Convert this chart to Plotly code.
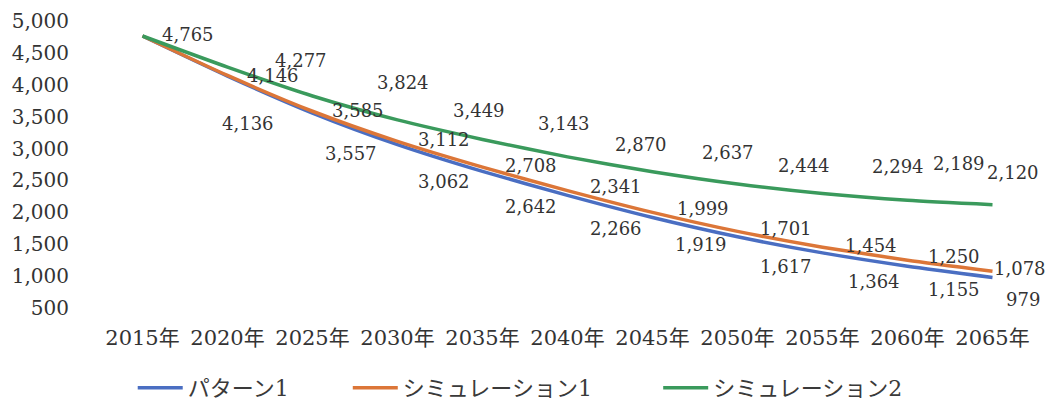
import plotly.graph_objects as go

years = [2015, 2020, 2025, 2030, 2035, 2040, 2045, 2050, 2055, 2060, 2065]
year_labels = ["2015年", "2020年", "2025年", "2030年", "2035年", "2040年",
               "2045年", "2050年", "2055年", "2060年", "2065年"]
pattern1 = [4765, 4136, 3557, 3062, 2642, 2266, 1919, 1617, 1364, 1155, 979]
sim1 = [4765, 4146, 3585, 3112, 2708, 2341, 1999, 1701, 1454, 1250, 1078]
sim2 = [4765, 4277, 3824, 3449, 3143, 2870, 2637, 2444, 2294, 2189, 2120]
names = ["パターン1", "シミュレーション1", "シミュレーション2"]
y_ticks = [500, 1000, 1500, 2000, 2500, 3000, 3500, 4000, 4500, 5000]

# style: colours, legend positions and label offsets in pixels (dx right, dy down)
colors = ["#4a6ec2", "#dc7638", "#3a9a5c"]
legend_x = [0.035, 0.265, 0.597]
off_p1 = [(20, 47), (20, 47), (38, 40), (46, 37), (48, 35), (48, 33), (48, 27), (48, 30), (51, 29), (46, 23), (30, 22)]
off_s1 = [(45, 0), (45, 0), (45, -1), (46, -2), (48, -2), (48, -4), (50, -4), (48, -3), (48, -2), (46, -4), (27, -3)]
off_s2 = [(45, -1), (73, -7), (90, -14), (81, -9), (81, -16), (73, -12), (75, -19), (66, -19), (75, -27), (51, -37), (20, -32)]

fig = go.Figure()
series = [pattern1, sim1, sim2]
legend_ids = ["legend", "legend2", "legend3"]
for vals, nm, col, lid in zip(series, names, colors, legend_ids):
    fig.add_trace(go.Scatter(x=years, y=vals, name=nm, mode="lines", legend=lid,
                             line=dict(color=col, width=3.5, shape="spline", smoothing=0.6)))

annots = []
label_font = dict(family="DejaVu Serif", size=18, color="#333333")
for idx, (vals, offs) in enumerate(zip(series, [off_p1, off_s1, off_s2])):
    for i, (yr, v) in enumerate(zip(years, vals)):
        if idx < 2 and i == 0:
            continue
        dx, dy = offs[i]
        annots.append(dict(x=yr, y=v, xref="x", yref="y", text=f"{v:,}", showarrow=False,
                           xshift=dx, yshift=-dy, font=label_font))

leg_font = dict(family="DejaVu Serif, Noto Sans CJK JP", size=22, color="#3a3a3a")
legends = {}
for lid, lx in zip(legend_ids, legend_x):
    legends[lid] = dict(orientation="h", x=lx, y=-0.279, xanchor="left", yanchor="middle",
                        font=leg_font, itemwidth=45, bgcolor="rgba(0,0,0,0)")

fig.update_layout(
    width=1047, height=393,
    margin=dict(l=92, r=20, t=13, b=93, autoexpand=False),
    paper_bgcolor="white", plot_bgcolor="white",
    showlegend=True,
    annotations=annots,
    **legends,
)
fig.update_xaxes(range=[2012.5, 2067.5], tickvals=years, ticktext=year_labels,
                 showgrid=False, zeroline=False, showline=False, ticks="",
                 ticklabelstandoff=15, automargin=False,
                 tickfont=dict(family="DejaVu Serif, Noto Sans CJK JP", size=21, color="#333333"))
fig.update_yaxes(range=[500, 5000], tickvals=y_ticks, tickformat=",",
                 showgrid=False, zeroline=False, showline=False, ticks="",
                 ticklabelstandoff=30, automargin=False,
                 tickfont=dict(family="DejaVu Serif", size=20, color="#333333"))

fig.write_html("out.html")
